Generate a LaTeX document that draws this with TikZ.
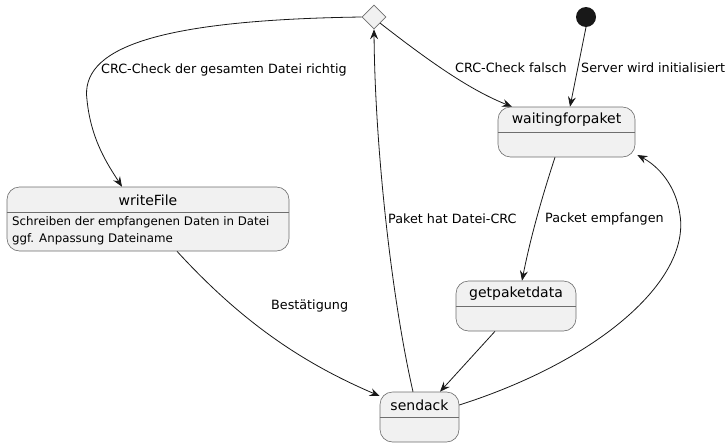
\documentclass[tikz,border=0pt]{standalone}
\usepackage{fontspec}
\setmainfont{DejaVu Sans}
\usetikzlibrary{shapes.geometric,arrows.meta,calc}
\definecolor{boxfill}{HTML}{F1F1F1}
\definecolor{boxline}{HTML}{6E6E6E}
\definecolor{ink}{HTML}{181818}
\begin{document}
\begin{tikzpicture}[x=1pt,y=-1pt,
  statebox/.style={draw=boxline,line width=0.6pt,fill=boxfill,rounded corners=12.5pt,inner sep=0pt},
  titletext/.style={font=\fontsize{14}{16}\selectfont,inner sep=0pt,text=black},
  bodytext/.style={font=\fontsize{11.8}{17}\selectfont,inner sep=0pt,align=left,text=black,anchor=west},
  lbl/.style={font=\fontsize{12.75}{15}\selectfont,inner sep=0pt,text=black},
  edge/.style={draw=ink,line width=0.8pt,-{Stealth[length=10pt,width=8pt,inset=3.5pt]}}]
\useasboundingbox (0,0) rectangle (728,447);

% nodes
\node[draw=boxline,line width=0.6pt,fill=boxfill,diamond,minimum size=24pt,inner sep=0pt] (dec) at (374,17) {};
\node[circle,fill=ink,minimum size=20pt,inner sep=0pt] (start) at (586,17) {};

\node[statebox,minimum width=137pt,minimum height=50pt] (wait) at (566.5,132) {};
\draw[boxline,line width=0.6pt] ([yshift=-26pt]wait.north west) -- ([yshift=-26pt]wait.north east);
\node[titletext] (waitT) at (566.5,120) {waitingforpaket};

\node[statebox,minimum width=282pt,minimum height=64pt] (write) at (148,219) {};
\draw[boxline,line width=0.6pt] ([yshift=-26pt]write.north west) -- ([yshift=-26pt]write.north east);
\node[titletext] (writeT) at (148,200) {writeFile};
\node[bodytext] (writeB) at (12,231) {Schreiben der empfangenen Daten in Datei\\ggf. Anpassung Dateiname};

\node[statebox,minimum width=120pt,minimum height=50pt] (get) at (516,306) {};
\draw[boxline,line width=0.6pt] ([yshift=-26pt]get.north west) -- ([yshift=-26pt]get.north east);
\node[titletext] (getT) at (516,294) {getpaketdata};

\node[statebox,minimum width=79pt,minimum height=50pt] (ack) at (419.5,417) {};
\draw[boxline,line width=0.6pt] ([yshift=-26pt]ack.north west) -- ([yshift=-26pt]ack.north east);
\node[titletext] (ackT) at (419.5,405) {sendack};

% connectors
\draw[edge] (dec.west) .. controls (150,20) and (80,50) .. (87,100)
  .. controls (91,140) and (108,165) .. ([xshift=-26pt]write.north);
\draw[edge] (dec.south east) .. controls (430,62) and (470,90) .. ([xshift=-54.5pt]wait.north);
\draw[edge] (start.south) -- ([xshift=3.5pt]wait.north);
\draw[edge] ([xshift=-11.5pt]wait.south) .. controls (541,200) and (530,240) .. ([xshift=6pt]get.north);
\draw[edge] ([xshift=-21pt]get.south) -- ([xshift=20.5pt]ack.north);
\draw[edge] ([yshift=12pt]ack.east) .. controls (600,360) and (690,280) .. (680,215)
  .. controls (676,185) and (658,166) .. ([xshift=2pt,yshift=-23pt]wait.east);
\draw[edge] ([xshift=-6.5pt]ack.north) .. controls (392,300) and (375,150) .. (dec.south);
\draw[edge] ([xshift=29pt]write.south) .. controls (240,320) and (300,362) .. ([yshift=21pt]ack.west);

% labels
\node[lbl,anchor=west] (l1) at (101,70) {CRC-Check der gesamten Datei richtig};
\node[lbl,anchor=west] (l2) at (455,68) {CRC-Check falsch};
\node[lbl,anchor=west] (l3) at (581,68) {Server wird initialisiert};
\node[lbl,anchor=west] (l4) at (545,219) {Packet empfangen};
\node[lbl,anchor=west] (l5) at (388,219) {Paket hat Datei-CRC};
\node[lbl,anchor=west] (l6) at (271,306) {Bestätigung};
\end{tikzpicture}
\end{document}
